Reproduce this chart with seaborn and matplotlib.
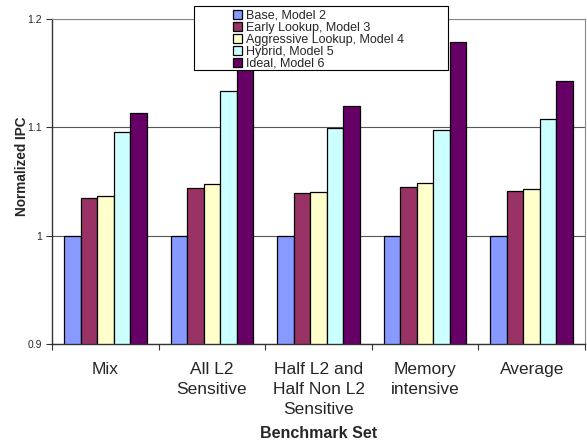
import matplotlib
matplotlib.use("Agg")
import matplotlib.pyplot as plt
import seaborn as sns
import pandas as pd
from matplotlib.ticker import FixedLocator, NullFormatter
from matplotlib.patches import Rectangle

categories = ["Mix", "All L2\nSensitive", "Half L2 and\nHalf Non L2\nSensitive", "Memory\nintensive", "Average"]
series = ["Base, Model 2", "Early Lookup, Model 3", "Aggressive Lookup, Model 4", "Hybrid, Model 5", "Ideal, Model 6"]
base = [1.0, 1.0, 1.0, 1.0, 1.0]
early = [1.035, 1.044, 1.039, 1.045, 1.041]
aggressive = [1.037, 1.048, 1.040, 1.049, 1.043]
hybrid = [1.096, 1.134, 1.099, 1.098, 1.108]
ideal = [1.113, 1.155, 1.120, 1.179, 1.143]
colors = ["#8899FF", "#993366", "#FFFFCC", "#CCFFFF", "#660066"]

rows = []
for s, vals in zip(series, [base, early, aggressive, hybrid, ideal]):
    for c, v in zip(categories, vals):
        rows.append({"cat": c, "series": s, "val": v})
df = pd.DataFrame(rows)

sns.set_style("white")
plt.rcParams['font.family'] = ['Liberation Sans', 'DejaVu Sans']

W, H = 587, 443
fig = plt.figure(figsize=(W / 100, H / 100), dpi=100)
ax = fig.add_axes([0.0886, 0.2235, 0.908, 0.7335])

sns.barplot(data=df, x="cat", y="val", hue="series", order=categories, hue_order=series,
            palette=colors, width=0.775, edgecolor="black", linewidth=0.9,
            saturation=1, ax=ax, legend=True)

ax.set_ylim(0.9, 1.2)
ax.set_xlim(-0.5, 4.5)
ax.set_yticks([0.9, 1.0, 1.1, 1.2])
ax.set_yticklabels(["0.9", "1", "1.1", "1.2"], fontsize=7.5)
ax.yaxis.grid(True, color="#555555", linewidth=0.8)
ax.set_axisbelow(True)

for side in ["top", "right"]:
    ax.spines[side].set_color("#888888")
    ax.spines[side].set_linewidth(0.8)
for side in ["left", "bottom"]:
    ax.spines[side].set_color("#333333")
    ax.spines[side].set_linewidth(1.0)

ax.tick_params(axis="y", which="major", length=4, width=0.8, direction="out", left=True, color="#333333", pad=3)
ax.tick_params(axis="x", which="major", length=0, labelsize=12.5, pad=13)
ax.xaxis.set_minor_locator(FixedLocator([-0.5, 0.5, 1.5, 2.5, 3.5, 4.5]))
ax.xaxis.set_minor_formatter(NullFormatter())
ax.tick_params(axis="x", which="minor", length=4, width=0.8, direction="out", bottom=True, color="#333333")
for lbl in ax.get_xticklabels():
    lbl.set_linespacing(1.4)

ax.set_xlabel("Benchmark Set", fontsize=11.5, fontweight="bold", labelpad=7)
ax.set_ylabel("Normalized IPC", fontsize=9.8, fontweight="bold")
ax.yaxis.set_label_coords(-0.043, 0.548)

ax.legend_.remove()
handles, labels = ax.get_legend_handles_labels()

# legend box (white, black border) spanning the original's extent
box = Rectangle((194 / W, 1 - 70 / H), (448 - 194) / W, (70 - 6) / H,
                transform=fig.transFigure, facecolor="white", edgecolor="black",
                linewidth=0.8, zorder=10)
fig.add_artist(box)
leg = fig.legend(handles, labels, loc="upper left", bbox_to_anchor=(233 / W, 1 - 9.5 / H),
                 fontsize=9, frameon=False,
                 handlelength=0.75, handleheight=0.75, handletextpad=0.3,
                 labelspacing=0.0, borderpad=0.0, borderaxespad=0)
leg.set_zorder(11)

fig.savefig("out.png", dpi=100)
